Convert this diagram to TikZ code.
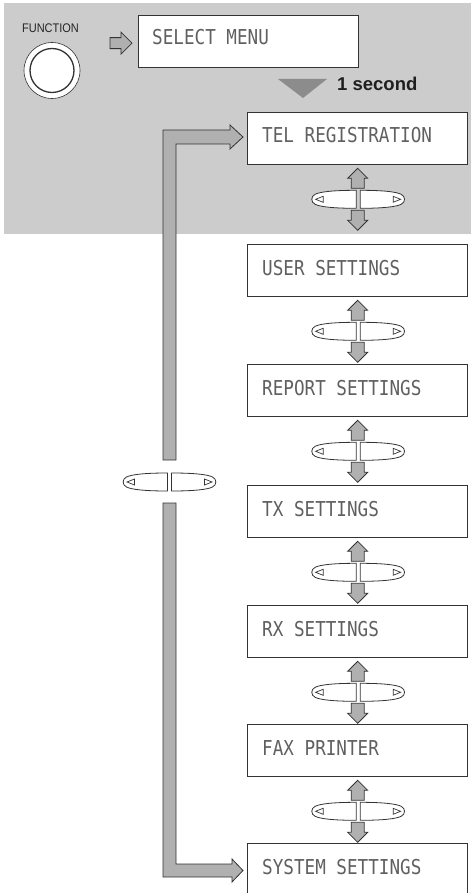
\documentclass[tikz,border=0pt]{standalone}
\usepackage{fontspec}
\setmainfont{Liberation Sans}
\newfontfamily\lcdfont[FakeStretch=0.86]{DejaVu Sans Mono}
\newfontfamily\narrowsans[FakeStretch=0.88]{Liberation Sans}
\usetikzlibrary{calc}
\definecolor{bg}{HTML}{CCCCCC}
\definecolor{fillg}{HTML}{B0B0B0}
\definecolor{edge}{HTML}{333333}
\definecolor{lcdtext}{HTML}{606060}
\definecolor{tri}{HTML}{8C8C8C}
\begin{document}
\begin{tikzpicture}[x=1pt,y=-1pt,
  menubox/.style={draw=edge, line width=1.3pt, fill=white, minimum width=220pt, minimum height=52pt, inner sep=0pt, anchor=north west},
  lcd/.style={font=\lcdfont\fontsize{20.5}{20.5}\selectfont, text=lcdtext, anchor=base west, inner sep=0pt},
  garrow/.style={fill=fillg, draw=edge, line width=0.8pt, line join=miter},
  btnshape/.style={fill=white, draw=edge, line width=0.8pt},
  btntri/.style={draw=edge, line width=0.7pt, line join=miter},
  uparrow/.pic={\draw[garrow] (0,0) -- (10,10) -- (6.5,10) -- (6.5,20) -- (-6.5,20) -- (-6.5,10) -- (-10,10) -- cycle;},
  downarrow/.pic={\draw[garrow] (0,0) -- (10,-10) -- (6.5,-10) -- (6.5,-20) -- (-6.5,-20) -- (-6.5,-10) -- (-10,-10) -- cycle;},
  lrbutton/.pic={
    \draw[btnshape] (-2,-9) .. controls (-25,-9) and (-38,-7.5) .. (-43,-5) .. controls (-47.5,-3) and (-47.5,3) .. (-43,5) .. controls (-38,7.5) and (-25,9) .. (-2,9) -- cycle;
    \draw[btntri] (-42.5,0) -- (-35,-3) -- (-35,3) -- cycle;
    \draw[btnshape] (2,-9) .. controls (25,-9) and (38,-7.5) .. (43,-5) .. controls (47.5,-3) and (47.5,3) .. (43,5) .. controls (38,7.5) and (25,9) .. (2,9) -- cycle;
    \draw[btntri] (42.5,0) -- (35,-3) -- (35,3) -- cycle;}
]
\useasboundingbox (0,0) rectangle (471,893);
\clip (0,0) rectangle (471,893);
% gray panel
\fill[bg] (4,3) rectangle (471,234);

% FUNCTION key
\node[font=\narrowsans\fontsize{12.5}{12.5}\selectfont, text=black!85, inner sep=0pt] (fnlabel) at (50.5,28.5) {FUNCTION};
\node[circle, draw=edge, line width=0.6pt, fill=white, minimum size=56pt, inner sep=0pt] (knob) at (52,70.5) {};
\node[circle, draw=edge, line width=1.3pt, minimum size=44pt, inner sep=0pt] (knobin) at (knob.center) {};

% boxes
\node[menubox] (sel) at (138,15) {};
\node[menubox] (tel) at (247,112) {};
\node[menubox] (usr) at (247,244) {};
\node[menubox] (rep) at (247,364) {};
\node[menubox] (tx)  at (247,485) {};
\node[menubox] (rx)  at (247,605) {};
\node[menubox] (fax) at (247,724) {};
\node[menubox] (sys) at (247,843) {};

\node[lcd] (selt) at ($(sel.north west)+(14,30)$) {SELECT MENU};
\node[lcd] (telt) at ($(tel.north west)+(15,31)$) {TEL REGISTRATION};
\node[lcd] (usrt) at ($(usr.north west)+(15,31)$) {USER SETTINGS};
\node[lcd] (rept) at ($(rep.north west)+(15,31)$) {REPORT SETTINGS};
\node[lcd] (txt)  at ($(tx.north west)+(15,31)$) {TX SETTINGS};
\node[lcd] (rxt)  at ($(rx.north west)+(15,31)$) {RX SETTINGS};
\node[lcd] (faxt) at ($(fax.north west)+(15,31)$) {FAX PRINTER};
\node[lcd] (syst) at ($(sys.north west)+(15,31)$) {SYSTEM SETTINGS};

% arrow FUNCTION -> SELECT MENU
\coordinate (fntip) at ($(sel.west)+(-6,1.5)$);
\draw[garrow] (fntip) -- ++(-11,-11) -- ++(0,5.5) -- ++(-11,0) -- ++(0,11) -- ++(11,0) -- ++(0,5.5) -- cycle;

% 1 second
\fill[tri] (278,79) -- (327,79) -- (303,98) -- cycle;
\node[font=\bfseries\fontsize{18.5}{18.5}\selectfont, text=black!88, anchor=base west, inner sep=0pt] (onesec) at (337,90.5) {1 second};

% up/down controls between boxes
\foreach \b in {tel,usr,rep,tx,rx,fax}{
  \path ($(\b.south)+(0,3)$) pic {uparrow};
  \path ($(\b.south)+(0.5,34)$) pic {lrbutton};
  \path ($(\b.south)+(0,65)$) pic {downarrow};
}

% loop arrow on the left
\draw[garrow] (163,460) -- (163,130) -- (230,130) -- (230,125) -- (243,137) -- (230,149) -- (230,144) -- (176,144) -- (176,460) -- cycle;
\draw[garrow] (163,503) -- (163,877) -- (232,877) -- (232,882) -- (243,870.5) -- (232,859) -- (232,864) -- (176,864) -- (176,503) -- cycle;
\path (169.5,482) pic {lrbutton};
\end{tikzpicture}
\end{document}
